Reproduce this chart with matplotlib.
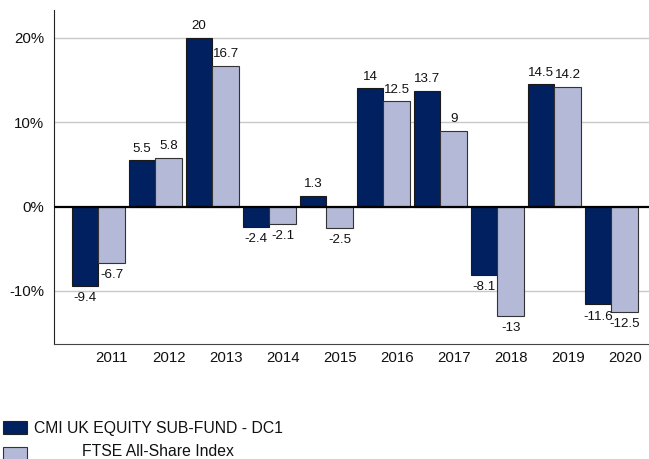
import matplotlib

matplotlib.use('agg')
import matplotlib.pyplot as plt
from matplotlib.patches import Rectangle
import numpy as np

plt.rcParams['font.family'] = ['Liberation Sans', 'DejaVu Sans']

years = ['2011', '2012', '2013', '2014', '2015', '2016', '2017', '2018', '2019', '2020']
fund = [-9.4, 5.5, 20, -2.4, 1.3, 14, 13.7, -8.1, 14.5, -11.6]
index = [-6.7, 5.8, 16.7, -2.1, -2.5, 12.5, 9, -13, 14.2, -12.5]
series_names = ['CMI UK EQUITY SUB-FUND - DC1', 'FTSE All-Share Index']
yticks = [-10, 0, 10, 20]

DARK = '#002060'
LIGHT = '#b3b9d6'

fig = plt.figure(figsize=(6.49, 4.59), dpi=100)
ax = fig.add_axes([54 / 649, 1 - 344 / 459, 1 - 54 / 649, (344 - 10) / 459])

x = np.arange(len(years))
w = 0.465
b1 = ax.bar(x - w / 2, fund, w, color=DARK, edgecolor='#1a1a1a', linewidth=0.8, zorder=3)
b2 = ax.bar(x + w / 2, index, w, color=LIGHT, edgecolor='#333333', linewidth=0.8, zorder=3)

for bars, vals in ((b1, fund), (b2, index)):
    for r, v in zip(bars, vals):
        cx = r.get_x() + r.get_width() / 2
        if v >= 0:
            ax.annotate(f'{v:g}', (cx, v), xytext=(0, 4), textcoords='offset points',
                        ha='center', va='bottom', fontsize=9.6, color='#111111')
        else:
            ax.annotate(f'{v:g}', (cx, v), xytext=(0, -4.5), textcoords='offset points',
                        ha='center', va='top', fontsize=9.6, color='#111111')

ax.set_xlim(-0.78, len(years) - 1 + 0.66)
ax.set_ylim(-16.3, 23.3)
ax.set_yticks(yticks)
ax.set_yticklabels([f'{t}%' for t in yticks], fontsize=10.8)
ax.set_xticks(x + w / 2)
ax.set_xticklabels(years, fontsize=10.8)
ax.tick_params(length=0, pad=7, colors='#111111')
ax.tick_params(axis='x', pad=5)

for t in yticks:
    if t != 0:
        ax.axhline(t, color='#c8c8c8', linewidth=1, zorder=1)
ax.axhline(0, color='black', linewidth=1.6, zorder=4)

ax.spines['top'].set_visible(False)
ax.spines['right'].set_visible(False)
ax.spines['left'].set_color('#222222')
ax.spines['bottom'].set_color('#444444')

# legend drawn by hand, text centred like the original
fig.add_artist(Rectangle((3 / 649, 1 - 434 / 459), 24 / 649, 13 / 459,
                         transform=fig.transFigure, facecolor=DARK, edgecolor='#222222', linewidth=0.8))
fig.add_artist(Rectangle((3 / 649, 1 - 460 / 459), 24 / 649, 13 / 459,
                         transform=fig.transFigure, facecolor=LIGHT, edgecolor='#333333', linewidth=0.8))
fig.text(158 / 649, 1 - 428 / 459, series_names[0], ha='center', va='center', fontsize=11.3, color='#111111')
fig.text(158 / 649, 1 - 451 / 459, series_names[1], ha='center', va='center', fontsize=11.3, color='#111111')

fig.savefig('out.png', dpi=100)
